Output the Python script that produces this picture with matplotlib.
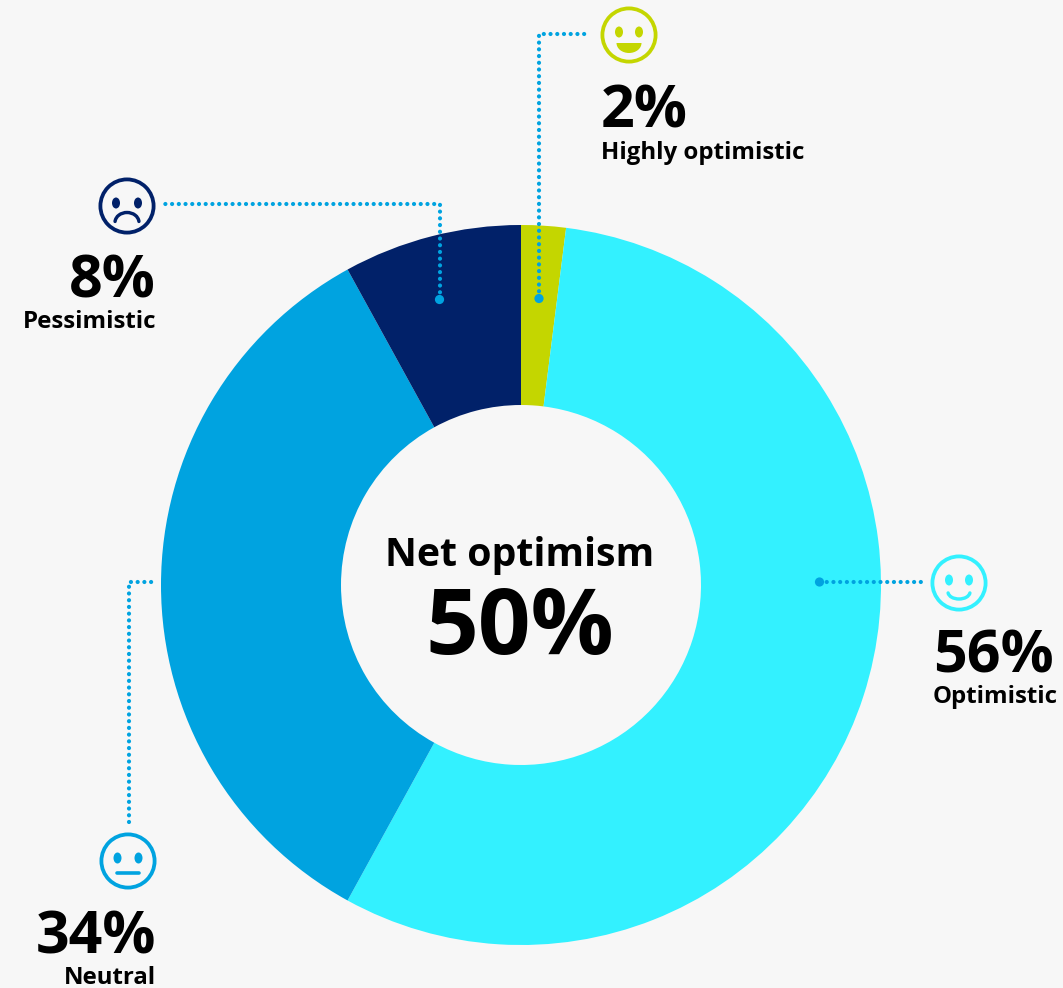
import matplotlib
matplotlib.use('Agg')
import matplotlib.pyplot as plt
from matplotlib.patches import Circle, Ellipse, Arc, Rectangle

labels = ['Highly optimistic', 'Optimistic', 'Neutral', 'Pessimistic']
values = [2, 56, 34, 8]
colors = ['#c4d600', '#33f1ff', '#00a3e0', '#012169']
net_optimism = 50

BG = '#f7f7f7'
LINE = '#00a3e0'
PX = 0.72  # points per pixel at dpi 100

plt.rcParams['font.family'] = ['Open Sans', 'DejaVu Sans']

fig = plt.figure(figsize=(10.63, 9.88), dpi=100, facecolor=BG)
ax = fig.add_axes([0, 0, 1, 1])

# y axis runs downwards, so counterclock here reads clockwise on screen
ax.pie(values, colors=colors, startangle=-90, counterclock=True,
       center=(521, 585), radius=360, wedgeprops=dict(width=180, linewidth=0))
ax.set_xlim(0, 1063)
ax.set_ylim(988, 0)
ax.set_aspect('equal')
ax.axis('off')


def leader(xs, ys, end_dot=True):
    ax.plot(xs, ys, color=LINE, lw=4.2 * PX, linestyle=(0, (0.01, 1.59)),
            dash_capstyle='round', zorder=3)
    if end_dot:
        ax.add_patch(Circle((xs[0], ys[0]), 4.6, color=LINE, lw=0, zorder=4))


def face(cx, cy, color, eye_dx, mood):
    ax.add_patch(Circle((cx, cy), 26.6, fill=False, ec=color, lw=3.8 * PX, zorder=3))
    for s in (-1, 1):
        ax.add_patch(Ellipse((cx + s * eye_dx, cy - 3), 8, 11, color=color, lw=0, zorder=3))
    if mood == 'grin':
        # open mouth: lower half of a flat ellipse
        mouth = Ellipse((cx, cy + 8), 25, 20, color=color, lw=0, zorder=3)
        ax.add_patch(mouth)
        mouth.set_clip_path(Rectangle((cx - 14, cy + 8), 28, 12, transform=ax.transData))
    elif mood == 'smile':
        ax.add_patch(Arc((cx, cy + 9), 22, 14, theta1=5, theta2=175, color=color,
                         lw=3.4 * PX, capstyle='round', zorder=3))
    elif mood == 'frown':
        ax.add_patch(Arc((cx, cy + 16.5), 24, 20, theta1=185, theta2=355, color=color,
                         lw=3.4 * PX, capstyle='round', zorder=3))
    else:
        ax.plot([cx - 11, cx + 11], [cy + 12, cy + 12], color=color,
                lw=3.6 * PX, solid_capstyle='round', zorder=3)


def callout(x, y_val, y_lab, val, lab, ha):
    ax.text(x, y_val, f'{val}%', ha=ha, va='baseline', fontsize=42.5, fontweight='bold', color='black')
    ax.text(x, y_lab, lab, ha=ha, va='baseline', fontsize=17.3, fontweight='bold', color='black')


leader([539, 539, 587], [298.5, 34, 34])
leader([439.5, 439.5, 165], [299.5, 204, 204])
leader([819.5, 922], [582, 582])
leader([129, 129, 157], [822, 582, 582], end_dot=False)

face(629, 35, colors[0], 10, 'grin')
face(959, 583, colors[1], 10, 'smile')
face(128, 861, colors[2], 10.5, 'flat')
face(127, 206, colors[3], 11, 'frown')

callout(601, 128, 159, values[0], labels[0], 'left')
callout(933, 672, 703, values[1], labels[1], 'left')
callout(156, 953, 984, values[2], labels[2], 'right')
callout(156, 297, 328, values[3], labels[3], 'right')

ax.text(519.5, 566, 'Net optimism', ha='center', va='baseline', fontsize=28.3, fontweight='bold', color='black')
ax.text(520, 654, f'{net_optimism}%', ha='center', va='baseline', fontsize=66.5, fontweight='bold', color='black')

fig.savefig('out.png', dpi=100, facecolor=BG)
